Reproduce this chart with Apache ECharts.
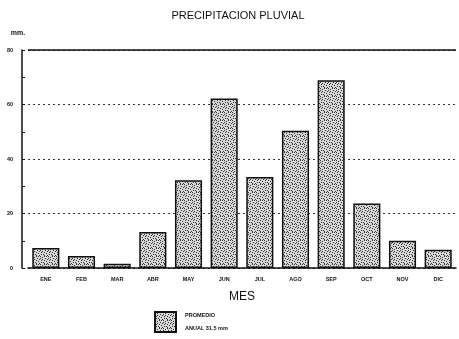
<!DOCTYPE html>
<html>
<head>
<meta charset="utf-8">
<script src="https://cdn.jsdelivr.net/npm/echarts@6/dist/echarts.min.js"></script>
<style>
    html, body { margin: 0; padding: 0; background: #fff; }
    #chart { width: 459px; height: 339px; }
</style>
</head>
<body>
<div id="chart"></div>
<script>
// datos
var meses = ['ENE', 'FEB', 'MAR', 'ABR', 'MAY', 'JUN', 'JUL', 'AGO', 'SEP', 'OCT', 'NOV', 'DIC'];
var precipitacion = [7.3, 4.4, 1.6, 13.2, 32.2, 62.2, 33.4, 50.4, 68.9, 23.7, 10.0, 6.7];
var yTicks = [0, 20, 40, 60, 80];

// trama punteada de las barras
function makeStipple() {
    var rows = [
        'X...X.X.',
        '..X.....',
        'X....X..',
        '..X....X',
        '.X..X...',
        '......X.',
        '.X.X....',
        '....X..X'
    ];
    var c = document.createElement('canvas');
    c.width = 8;
    c.height = 8;
    var ctx = c.getContext('2d');
    ctx.fillStyle = '#d8d8d8';
    ctx.fillRect(0, 0, 8, 8);
    ctx.fillStyle = '#333';
    for (var y = 0; y < rows.length; y++) {
        for (var x = 0; x < rows[y].length; x++) {
            if (rows[y][x] === 'X') ctx.fillRect(x, y, 1, 1);
        }
    }
    return c;
}

var stipple = { image: makeStipple(), repeat: 'repeat' };
var chart = echarts.init(document.getElementById('chart'));

chart.setOption({
    animation: false,
    title: {
        text: 'PRECIPITACION PLUVIAL',
        left: 233,
        textAlign: 'center',
        top: 5,
        textStyle: { fontFamily: 'Liberation Sans', fontSize: 11, fontWeight: 'normal', color: '#111' }
    },
    legend: {
        data: ['PROMEDIO'],
        left: 154,
        top: 309,
        padding: 0,
        icon: 'rect',
        itemWidth: 21,
        itemHeight: 20,
        formatter: function (name) {
            return name + '\nANUAL 31.5 mm';
        },
        textStyle: { fontFamily: 'Liberation Sans', fontSize: 5.5, fontWeight: 'bold', color: '#111', lineHeight: 13, padding: [0, 0, 0, 4] }
    },
    grid: {
        left: 28,
        right: 3,
        top: 50,
        bottom: 71
    },
    xAxis: {
        type: 'category',
        data: meses,
        name: 'MES',
        nameLocation: 'middle',
        nameGap: 23,
        nameTextStyle: { fontFamily: 'Liberation Sans', fontSize: 12, color: '#111' },
        axisLine: { lineStyle: { color: '#111', width: 1.5 } },
        axisTick: { inside: true, alignWithLabel: true, length: 3, lineStyle: { color: '#111' } },
        axisLabel: { margin: 8, fontFamily: 'Liberation Sans', fontSize: 5.5, fontWeight: 'bold', color: '#111' }
    },
    yAxis: {
        type: 'value',
        min: yTicks[0],
        max: yTicks[yTicks.length - 1],
        interval: 20,
        offset: 6,
        name: 'mm.',
        nameGap: 13,
        nameTextStyle: { fontFamily: 'Liberation Sans', fontSize: 7, fontWeight: 'bold', color: '#111', align: 'center', padding: [0, 0, 0, -8] },
        axisLine: { show: true, lineStyle: { color: '#111', width: 1.5 } },
        axisTick: { show: true, inside: true, length: 3, lineStyle: { color: '#111' } },
        minorTick: { show: true, splitNumber: 2, length: 3, lineStyle: { color: '#111' } },
        axisLabel: { margin: 9, fontFamily: 'Liberation Sans', fontSize: 5.5, fontWeight: 'bold', color: '#111' },
        splitLine: { show: true, lineStyle: { color: '#333', type: [2, 3], width: 1 } }
    },
    series: [{
        name: 'PROMEDIO',
        type: 'bar',
        data: precipitacion,
        barCategoryGap: '24%',
        itemStyle: { color: stipple, borderColor: '#111', borderWidth: 1.5 },
        markLine: {
            silent: true,
            symbol: 'none',
            label: { show: false },
            lineStyle: { color: '#111', type: 'solid', width: 1.5 },
            data: [{ yAxis: yTicks[yTicks.length - 1] }]
        }
    }]
});
</script>
</body>
</html>
